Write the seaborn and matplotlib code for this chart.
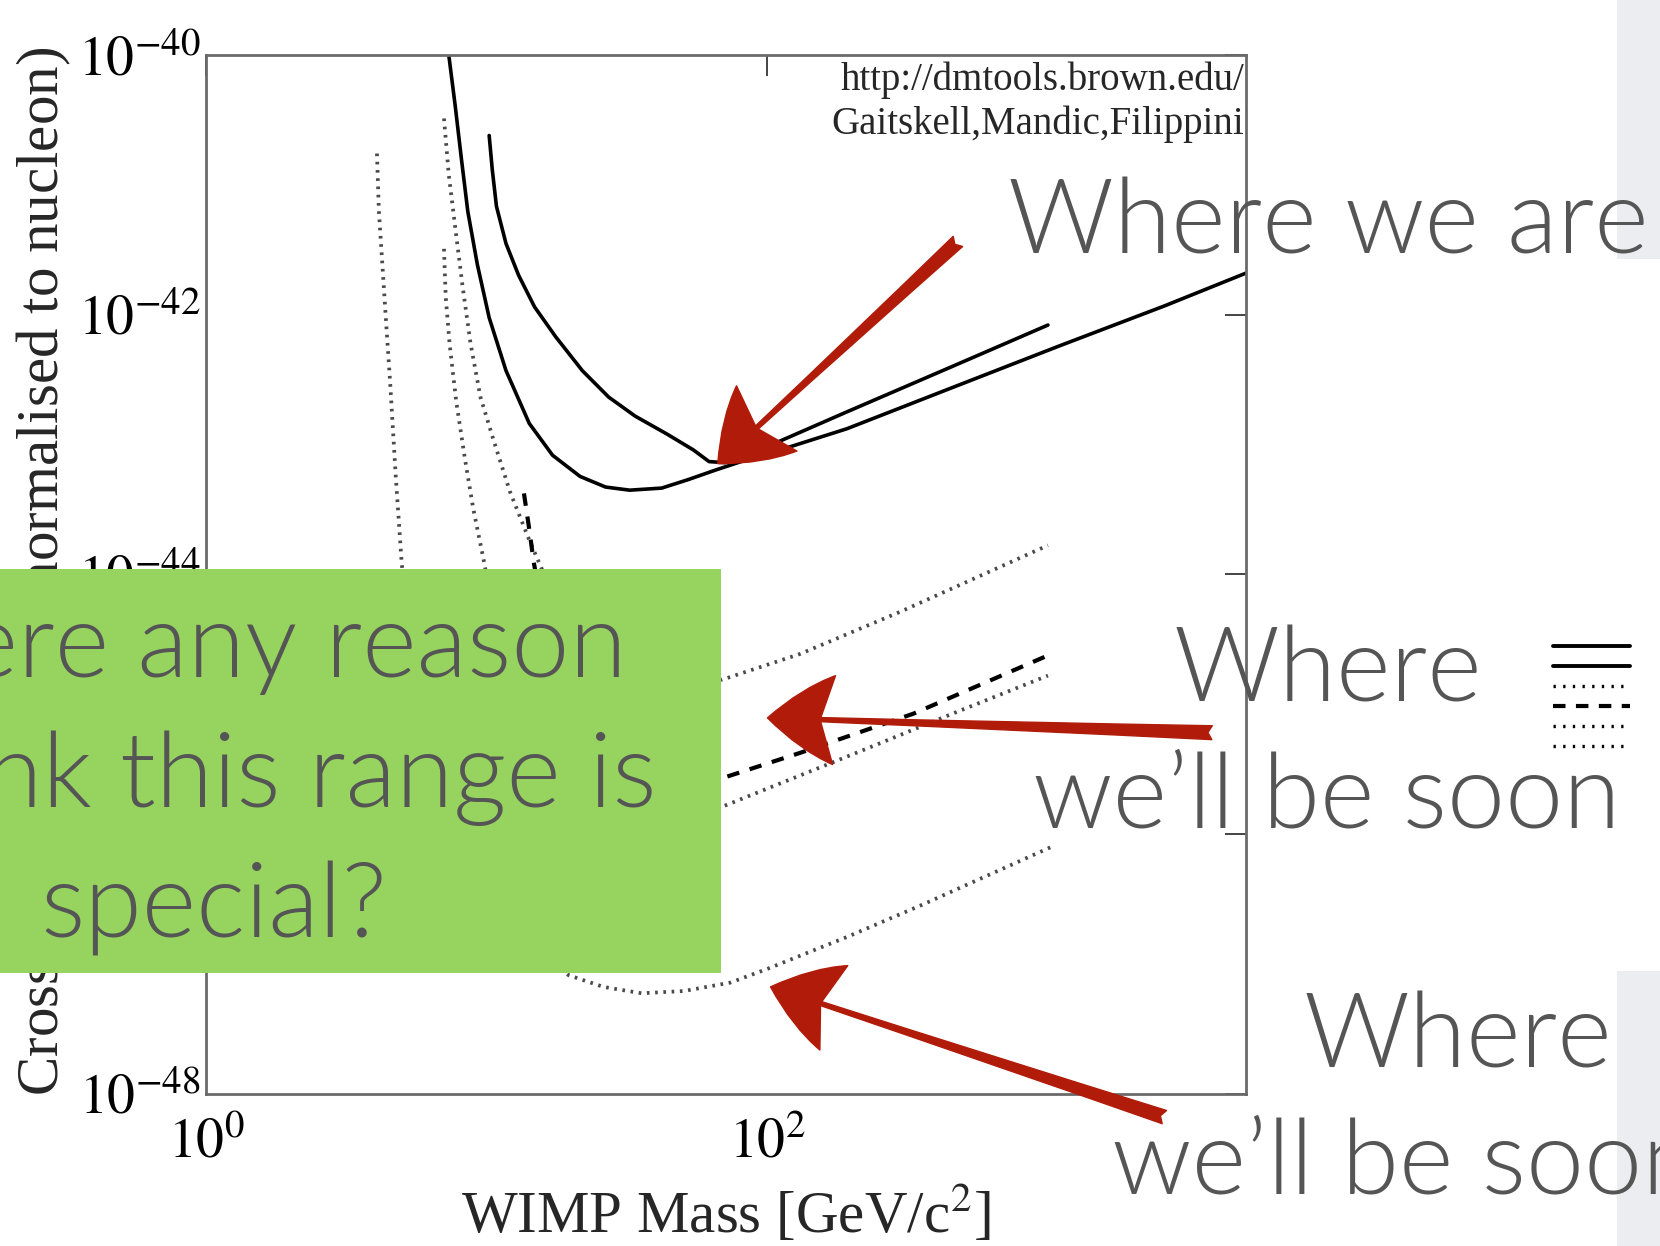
import numpy as np
import pandas as pd
import matplotlib
matplotlib.use("Agg")
import matplotlib.pyplot as plt
import seaborn as sns
from matplotlib.patches import Rectangle
from matplotlib.lines import Line2D
from matplotlib.ticker import NullLocator

# ---------------- data (log10 of WIMP mass [GeV/c^2], log10 of cross-section [cm^2]) -------------
solid_low_logm = [0.864, 0.887, 0.909, 0.932, 0.966, 1.008, 1.068, 1.151, 1.234, 1.332, 1.423, 1.509,
                  1.623, 1.717, 1.815, 1.906, 2.057, 2.283, 2.660, 3.038, 3.415, 3.706]
solid_low_logs = [-40.000, -40.392, -40.799, -41.207, -41.615, -42.023, -42.431, -42.838, -43.083, -43.246,
                  -43.328, -43.352, -43.336, -43.271, -43.197, -43.132, -43.034, -42.879, -42.561, -42.243,
                  -41.933, -41.680]

solid_up_logm = [1.008, 1.019, 1.034, 1.068, 1.113, 1.170, 1.245, 1.340, 1.434, 1.528, 1.642, 1.736, 1.792,
                 1.849, 1.981, 2.283, 2.660, 3.000]
solid_up_logs = [-40.620, -40.881, -41.166, -41.452, -41.697, -41.941, -42.170, -42.431, -42.635, -42.781,
                 -42.920, -43.042, -43.132, -43.140, -43.034, -42.749, -42.398, -42.080]

dotted_a_logm = [0.608, 0.615, 0.628, 0.642, 0.655, 0.675, 0.696, 0.717, 0.887, 1.291, 1.415, 1.551, 1.702,
                 1.868, 2.000, 2.283, 2.547, 3.011]
dotted_a_logs = [-40.759, -41.207, -41.639, -42.104, -42.524, -43.246, -43.907, -44.388, -46.264, -47.088,
                 -47.178, -47.227, -47.210, -47.145, -47.039, -46.794, -46.550, -46.101]

dotted_b_logm = [0.847, 0.864, 0.888, 0.913, 0.942, 0.977, 1.024, 1.083, 1.151, 1.208, 1.415, 1.838, 2.117,
                 2.472, 3.000]
dotted_b_logs = [-40.489, -40.922, -41.346, -41.778, -42.227, -42.635, -42.969, -43.369, -43.736, -44.021,
                 -44.674, -44.812, -44.613, -44.290, -43.777]

dotted_c_logm = [0.847, 0.853, 0.867, 0.891, 0.922, 0.951, 0.990, 1.038, 1.377, 1.838, 2.355, 2.660, 3.000]
dotted_c_logs = [-41.493, -41.860, -42.227, -42.675, -43.116, -43.491, -43.907, -44.470, -45.612, -45.791,
                 -45.342, -45.073, -44.780]

dashed_logm = [1.132, 1.151, 1.167, 1.226, 1.453, 1.838, 2.117, 2.521, 3.000]
dashed_logs = [-43.377, -43.654, -43.907, -44.633, -45.367, -45.571, -45.375, -45.073, -44.625]

x_ticks = [1, 100]
x_tick_labels = [r"$10^{0}$", r"$10^{2}$"]
y_ticks = [1e-48, 1e-46, 1e-44, 1e-42, 1e-40]
y_tick_labels = [r"$10^{-48}$", r"$10^{-46}$", r"$10^{-44}$", r"$10^{-42}$", r"$10^{-40}$"]

# annotation arrows: (tail log-mass, tail log-sigma, tip log-mass, tip log-sigma)
arrows = [
    (2.679, -41.436, 1.823, -43.148),
    (3.585, -45.220, 2.000, -45.106),
    (3.415, -48.181, 2.011, -47.178),
]

# ---------------- style ----------------
sns.set_style("white")
plt.rcParams["font.family"] = ["Liberation Serif", "DejaVu Serif"]
plt.rcParams["mathtext.fontset"] = "stix"

W, H = 1660, 1246
fig = plt.figure(figsize=(W / 100, H / 100), dpi=100)
fig.patch.set_facecolor("white")
ax = fig.add_axes([206.4 / W, 1 - 1093.6 / H, (1246 - 206.4) / W, (1093.6 - 55) / H])
ax.set_xscale("log")
ax.set_yscale("log")


def curve(lm, ls, **kw):
    df = pd.DataFrame({"mass": 10 ** np.array(lm), "sigma": 10 ** np.array(ls)})
    sns.lineplot(data=df, x="mass", y="sigma", ax=ax, sort=False, estimator=None, **kw)


dot_kw = dict(color="#2a2a2a", lw=2.7, linestyle=(0, (0.7, 1.5)), alpha=0.85)
curve(solid_low_logm, solid_low_logs, color="black", lw=2.6)
curve(solid_up_logm, solid_up_logs, color="black", lw=2.6)
curve(dotted_a_logm, dotted_a_logs, **dot_kw)
curve(dotted_b_logm, dotted_b_logs, **dot_kw)
curve(dotted_c_logm, dotted_c_logs, **dot_kw)
curve(dashed_logm, dashed_logs, color="black", lw=3.0, linestyle=(0, (3.0, 2.6)))

ax.set_xlim(1, 10 ** 3.706)
ax.set_ylim(1e-48, 1e-40)
ax.set_xticks(x_ticks)
ax.set_xticklabels(x_tick_labels)
ax.set_yticks(y_ticks)
ax.set_yticklabels(y_tick_labels)
ax.xaxis.set_minor_locator(NullLocator())
ax.yaxis.set_minor_locator(NullLocator())
ax.tick_params(direction="in", length=15, width=1.4, color="#444444", top=True, right=True,
               labelsize=40, labelcolor="black")
ax.tick_params(axis="x", pad=17)
ax.tick_params(axis="y", pad=4)
for sp in ax.spines.values():
    sp.set_color("#6a6a6a")
    sp.set_linewidth(2.0)

ax.set_xlabel(r"WIMP Mass [GeV/c$^2$]", fontsize=42.5)
ax.xaxis.set_label_coords(0.5, -0.088)
ax.set_ylabel(r"Cross-section [cm$^2$] (normalised to nucleon)", fontsize=42.5)
ax.yaxis.set_label_coords(-0.127, 0.503)

ax.text(0.998, 0.9663, "http://dmtools.brown.edu/", transform=ax.transAxes, ha="right",
        va="baseline", fontsize=28)
ax.text(0.998, 0.924, "Gaitskell,Mandic,Filippini", transform=ax.transAxes, ha="right",
        va="baseline", fontsize=28)

red = "#b11c0a"
for tm, ts, hm, hs in arrows:
    ax.annotate("", xy=(10 ** hm, 10 ** hs), xytext=(10 ** tm, 10 ** ts), annotation_clip=False,
                arrowprops=dict(arrowstyle="fancy,head_length=4.8,head_width=6.4,tail_width=1.0",
                                color=red, shrinkA=0, shrinkB=0, mutation_scale=10))

# ---------------- slide decorations ----------------
gray = "#ecedf1"
fig.add_artist(Rectangle((1617 / W, 1 - 259 / H), 43 / W, 259 / H, transform=fig.transFigure,
                         facecolor=gray, edgecolor="none", zorder=1))
fig.add_artist(Rectangle((1617 / W, 0), 43 / W, 1 - 971 / H, transform=fig.transFigure,
                         facecolor=gray, edgecolor="none", zorder=1))
fig.add_artist(Rectangle((0, 1 - 973 / H), 721 / W, (973 - 568.5) / H, transform=fig.transFigure,
                         facecolor="#97d35f", edgecolor="none", zorder=2))

slide_font = dict(family=["Lato", "DejaVu Sans"], weight=300, color="#555555", fontsize=75, zorder=5)
fig.text(1008 / W, 1 - 254 / H, "Where we are", ha="left", va="baseline", **slide_font)
fig.text(1327.6 / W, 1 - 701 / H, "Where", ha="center", va="baseline", **slide_font)
fig.text(1327 / W, 1 - 828 / H, "we\u2019ll be soon", ha="center", va="baseline", **slide_font)
fig.text(1458 / W, 1 - 1067 / H, "Where", ha="center", va="baseline", **slide_font)
fig.text(1111.6 / W, 1 - 1194 / H, "we\u2019ll be soon", ha="left", va="baseline", **slide_font)

fig.text(626.7 / W, 1 - 677 / H, "Is there any reason", ha="right", va="baseline", **slide_font)
fig.text(656.4 / W, 1 - 807 / H, "to think this range is", ha="right", va="baseline", **slide_font)
fig.text(214 / W, 1 - 937 / H, "special?", ha="center", va="baseline", **slide_font)

# line-style key next to the middle caption
handles = [
    Line2D([], [], color="black", lw=2.8),
    Line2D([], [], color="black", lw=2.8),
    Line2D([], [], color="black", lw=2.4, linestyle=(0, (0.7, 2.2))),
    Line2D([], [], color="black", lw=3.0, linestyle=(0, (3.0, 2.5))),
    Line2D([], [], color="black", lw=2.4, linestyle=(0, (0.7, 2.2))),
    Line2D([], [], color="black", lw=2.4, linestyle=(0, (0.7, 2.2))),
]
fig.legend(handles, [""] * 6, loc="center", bbox_to_anchor=(1591.5 / W, 1 - 697.5 / H),
           frameon=False, fontsize=10, handlelength=5.6, handletextpad=0, labelspacing=0.5,
           borderpad=0, borderaxespad=0)

fig.savefig("out.png", dpi=100)
